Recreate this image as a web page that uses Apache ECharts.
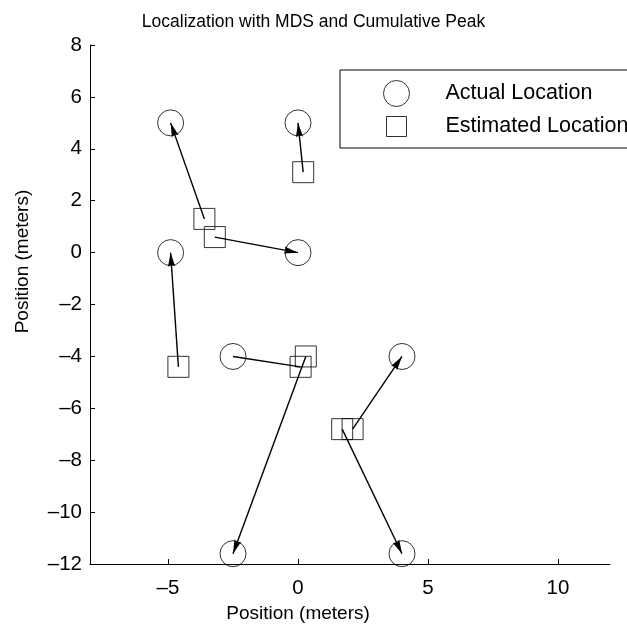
<!DOCTYPE html>
<html><head><meta charset="utf-8">
<script src="https://cdn.jsdelivr.net/npm/echarts@6/dist/echarts.min.js"></script>
<style>html,body{margin:0;padding:0;background:#fff}#c{width:627px;height:628px}</style>
</head><body><div id="c"></div>
<script>
// Actual locations (circles)
const actualX = [-4.9, 0, -4.9, 0, -2.5, 4, -2.5, 4];
const actualY = [5, 5, 0, 0, -4, -4, -11.6, -11.6];
// Estimated locations (squares)
const estX = [-3.6, -3.2, 0.2, -4.6, 0.3, 0.1, 2.1, 1.7];
const estY = [1.3, 0.6, 3.1, -4.4, -4.0, -4.4, -6.8, -6.8];
// Arrows: estimate index -> actual index
const arrowFrom = [0, 1, 2, 3, 4, 6, 7];
const arrowTo   = [0, 3, 1, 2, 6, 5, 7];
// Plain connecting line (no head): estimate index -> actual index
const lineFrom = [5];
const lineTo   = [4];
// Tick labels
const xTicks = [-5, 0, 5, 10];
const yTicks = [-12, -10, -8, -6, -4, -2, 0, 2, 4, 6, 8];

const FONT = 'Liberation Sans, Arial, Helvetica, sans-serif';
const fmt = v => String(v).replace('-', '\u2013');

const actualData = actualX.map((x, i) => [x, actualY[i]]);
const estData = estX.map((x, i) => [x, estY[i]]);
const arrowData = arrowFrom.map((f, i) => ({coords: [estData[f], actualData[arrowTo[i]]]}));
const lineData = lineFrom.map((f, i) => ({coords: [estData[f], actualData[lineTo[i]]]}));

const arrowPath = 'path://M-14,0 M14,28 M0,14 L3.6,28 L0,26 L-3.6,28 Z';
const squareIcon = 'path://M0,0 M26,26 M3,3 L23,3 L23,23 L3,23 Z';
const hollow = {color: 'rgba(0,0,0,0)', borderColor: '#000', borderWidth: 1};

const chart = echarts.init(document.getElementById('c'), null, {renderer: 'canvas'});
chart.setOption({
  animation: false,
  backgroundColor: '#fff',
  title: {
    text: 'Localization with MDS and Cumulative Peak',
    left: 'center', top: 8,
    textStyle: {fontFamily: FONT, fontSize: 17.5, fontWeight: 'normal', color: '#000'}
  },
  grid: {left: 90, right: 17, top: 45, bottom: 62, containLabel: false},
  legend: {
    orient: 'vertical', left: 340, top: 70,
    padding: [10, 60, 8, 43],
    itemGap: 6, itemWidth: 26, itemHeight: 26,
    borderColor: '#000', borderWidth: 1, backgroundColor: '#fff',
    textStyle: {fontFamily: FONT, fontSize: 21.5, color: '#000', padding: [0, 0, 0, 31]},
    data: [
      {name: 'Actual Location', icon: 'circle', itemStyle: hollow},
      {name: 'Estimated Location', icon: squareIcon, itemStyle: hollow}
    ]
  },
  xAxis: {
    type: 'value', min: -8, max: 12,
    name: 'Position (meters)', nameLocation: 'middle', nameGap: 25,
    nameTextStyle: {fontFamily: FONT, fontSize: 19, color: '#000', padding: [0, 104, 0, 0]},
    axisLine: {show: true, onZero: false, lineStyle: {color: '#000', width: 1}},
    axisTick: {show: true, inside: true, length: 5, lineStyle: {color: '#000'}, customValues: xTicks},
    axisLabel: {show: true, margin: 14, fontFamily: FONT, fontSize: 20.5, color: '#000', formatter: fmt, customValues: xTicks},
    splitLine: {show: false}
  },
  yAxis: {
    type: 'value', min: -12, max: 8, interval: 2,
    name: 'Position (meters)', nameLocation: 'middle', nameGap: 58, nameRotate: 90,
    nameTextStyle: {fontFamily: FONT, fontSize: 19, color: '#000', padding: [0, 0, 0, 86]},
    axisLine: {show: true, onZero: false, lineStyle: {color: '#000', width: 1}},
    axisTick: {show: true, inside: true, length: 5, lineStyle: {color: '#000'}, customValues: yTicks},
    axisLabel: {show: true, margin: 8, fontFamily: FONT, fontSize: 20.5, color: '#000', formatter: fmt, customValues: yTicks},
    splitLine: {show: false}
  },
  series: [
    {
      name: 'Actual Location', type: 'scatter', symbol: 'circle', symbolSize: 26,
      itemStyle: hollow, data: actualData, z: 3
    },
    {
      name: 'Estimated Location', type: 'scatter', symbol: 'rect', symbolSize: 21,
      itemStyle: hollow, data: estData, z: 3
    },
    {
      name: 'arrows', type: 'lines', coordinateSystem: 'cartesian2d',
      symbol: ['none', arrowPath], symbolSize: 28,
      lineStyle: {color: '#000', width: 1.4, opacity: 1, curveness: 0},
      itemStyle: {color: '#000'},
      data: arrowData, z: 4
    },
    {
      name: 'link', type: 'lines', coordinateSystem: 'cartesian2d',
      symbol: ['none', 'none'],
      lineStyle: {color: '#000', width: 1.4, opacity: 1, curveness: 0},
      data: lineData, z: 4
    }
  ]
});
</script>
</body></html>
